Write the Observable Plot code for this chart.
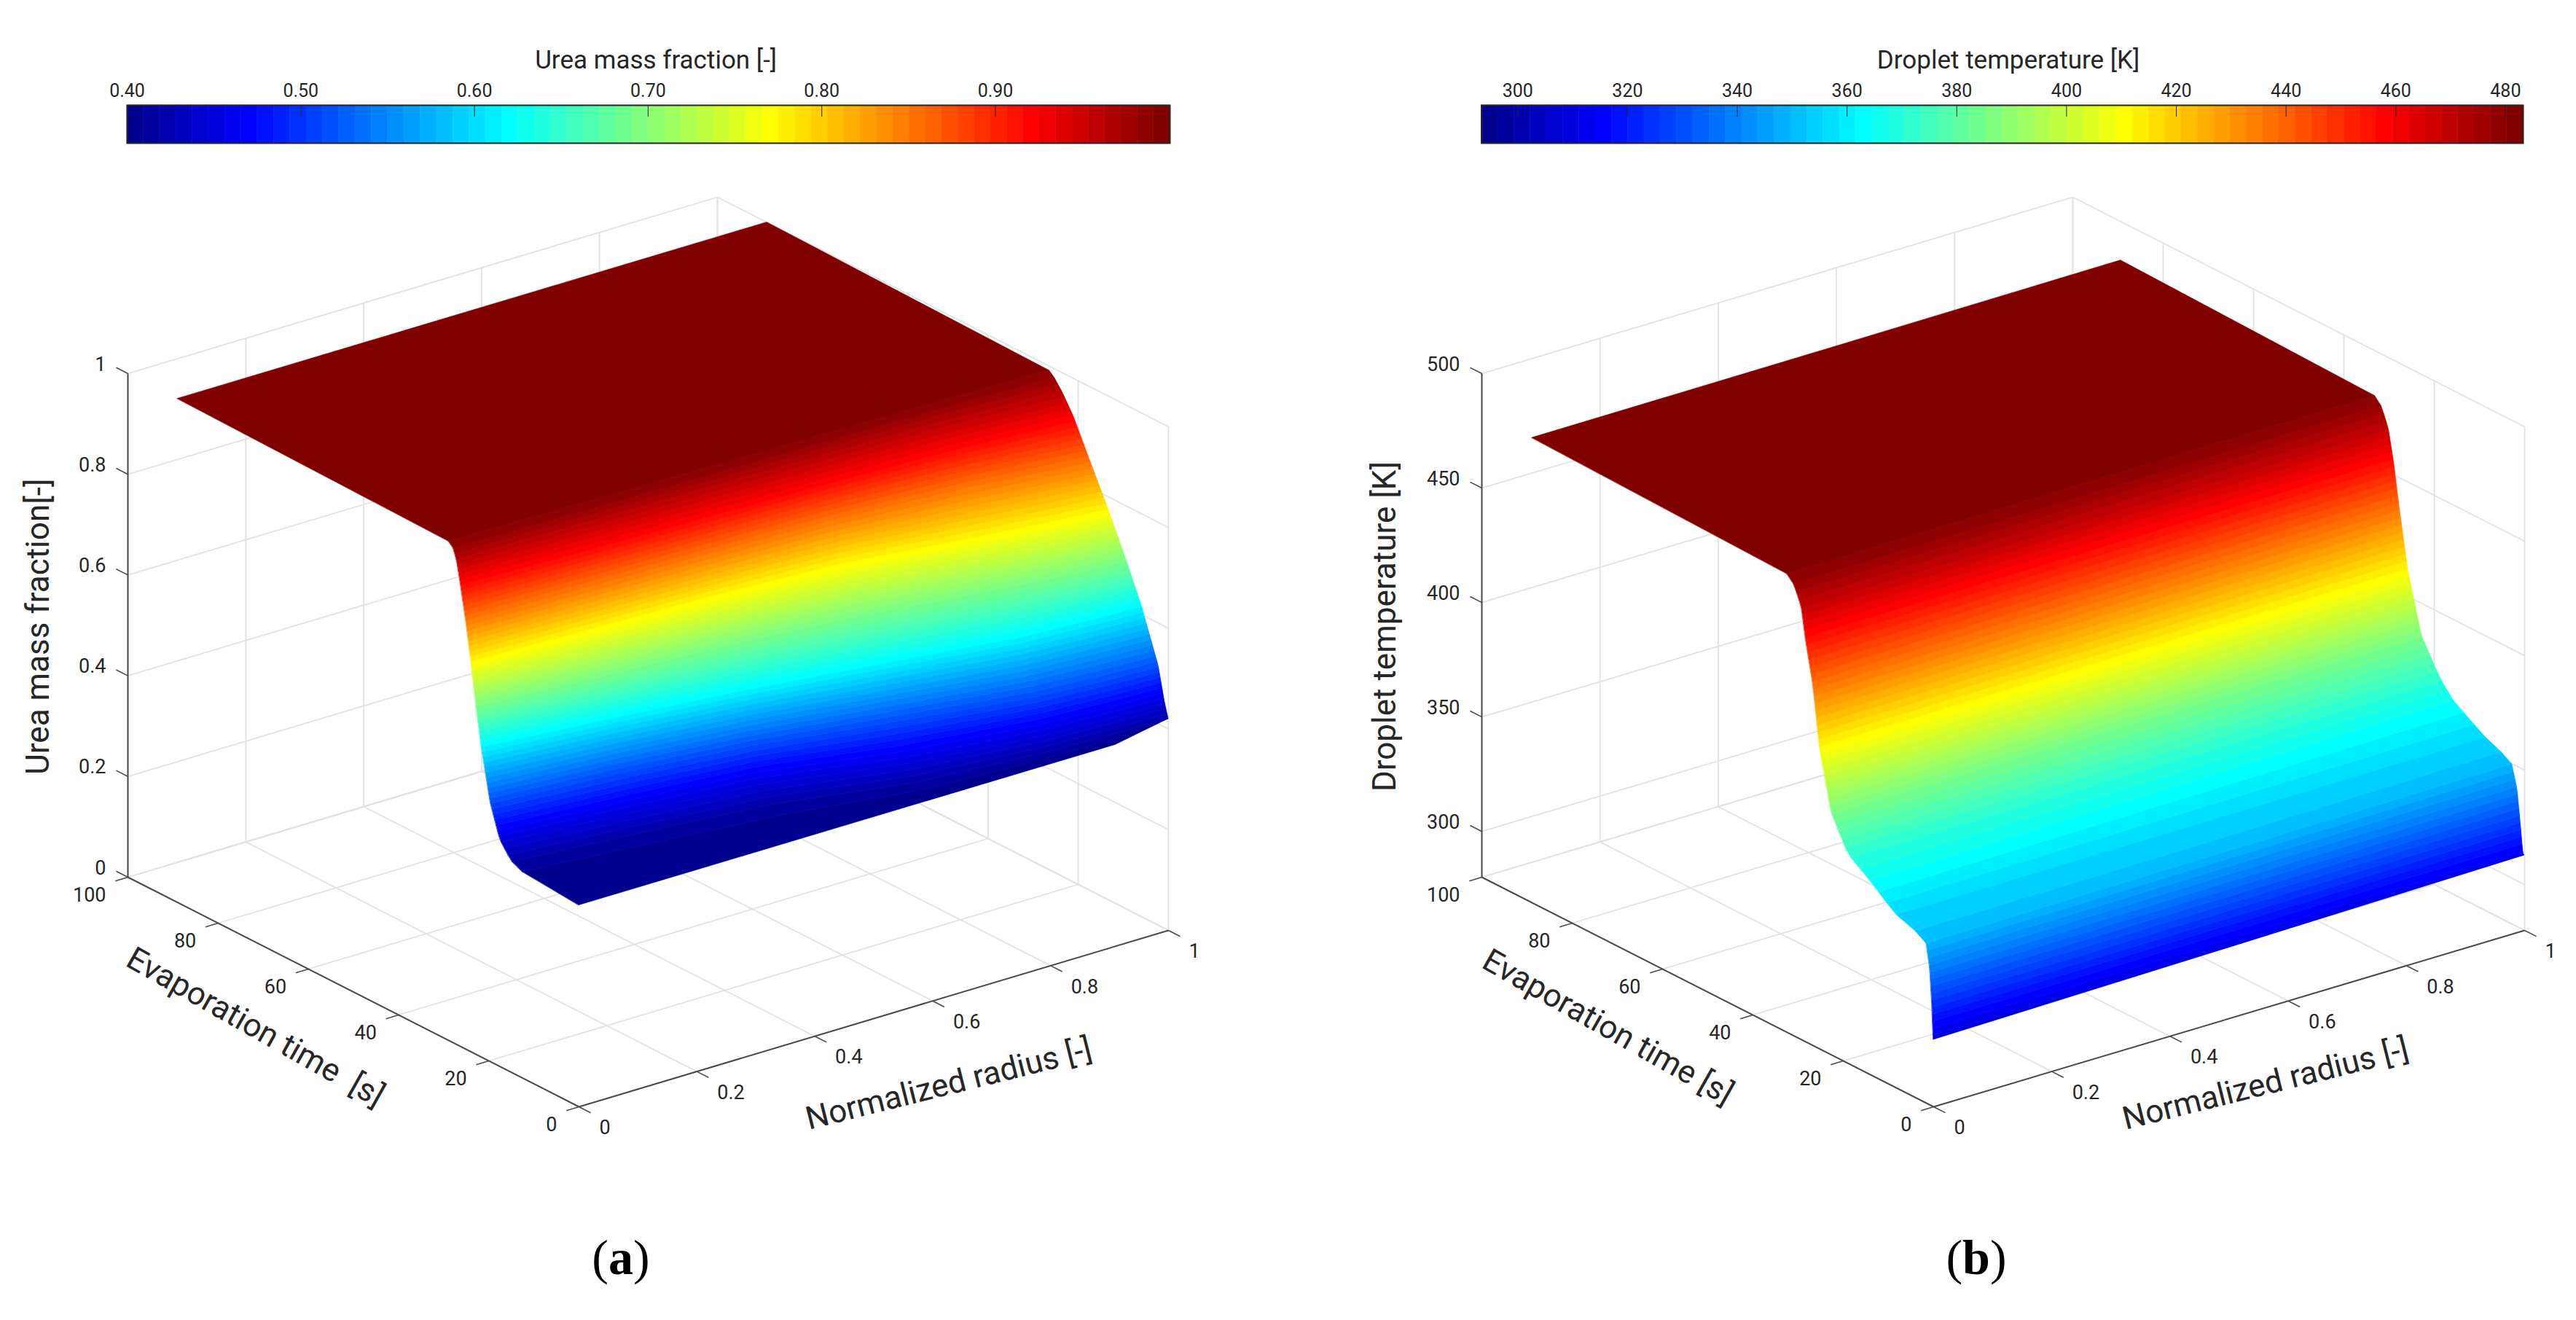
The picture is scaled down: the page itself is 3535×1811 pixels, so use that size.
<!DOCTYPE html>
<html>
<head>
<meta charset="utf-8">
<script src="https://cdn.jsdelivr.net/npm/d3@7"></script>
<script src="https://cdn.jsdelivr.net/npm/@observablehq/plot@0.6"></script>
<style>
  html, body { margin: 0; padding: 0; background: #fff; }
  #page { display: flex; width: 3535px; height: 1811px; overflow: hidden; font-family: Roboto, sans-serif; }
  .panel { flex: none; position: relative; }
  .panel svg { display: block; }
  .cap { position: relative; height: 131px; }
  .cap span { position: absolute; top: 6px; transform: translateX(-50%); font: 68px "Liberation Serif", serif; color: #000; }
</style>
</head>
<body>
<div id="page"></div>
<script>
// ---------- shared axis ticks ----------
const timeTicks = [0, 20, 40, 60, 80, 100];
const radiusTicks = [0, 0.2, 0.4, 0.6, 0.8, 1];

// ---------- (a) urea mass fraction ----------
const ureaZTicks = [0, 0.2, 0.4, 0.6, 0.8, 1];
const ureaBarTicks = [0.4, 0.5, 0.6, 0.7, 0.8, 0.9];
const ureaRadius = [0, 0.2, 0.4, 0.6, 0.8, 0.91, 1];
const ureaFloor = [0.40, 0.40, 0.40, 0.40, 0.40, 0.40, 0.42];   // value at t = 0 along the radius
const ureaLevels = [0.40, 0.405, 0.42, 0.45, 0.467, 0.515, 0.619, 0.69, 0.771, 0.85, 0.924, 0.96, 0.985, 0.995, 0.9995, 1.0];
// time [s] at which each level is reached, at each radius station
const ureaTimes = [
  [0, 0, 0, 0, 0, 0, 0],
  [11.5, 8.5, 5.5, 1.5, 0.4, 0.1, 0],
  [15, 12.5, 9.5, 3.5, 1, 0.5, 0],
  [17.4, 14.8, 12, 5.5, 2, 1.2, 0.85],
  [18, 15.6, 12.8, 6.5, 2.6, 1.7, 1.2],
  [19.6, 17.3, 14, 9, 4.2, 2.9, 2.2],
  [21.6, 18.8, 15.6, 11.7, 7.6, 6.6, 6],
  [22.7, 20.6, 18.8, 16, 12, 10, 9.2],
  [23.8, 22.8, 21.9, 20.2, 16.3, 14.4, 13.1],
  [25, 24.2, 23.4, 22.5, 20.5, 18.7, 17.2],
  [26.3, 25.3, 24.6, 23.9, 23, 22, 21],
  [27, 26.5, 26, 25.5, 25, 24, 23.4],
  [27.9, 27.4, 27, 26.6, 26.2, 25.8, 25.5],
  [29.5, 29, 28.5, 28, 27.5, 27.3, 27],
  [31.5, 31, 30.5, 30, 29.8, 29.6, 29.3],
  [89, 89, 89, 89, 89, 89, 89]
];

// ---------- (b) droplet temperature ----------
const tempZTicks = [300, 350, 400, 450, 500];
const tempBarTicks = [300, 320, 340, 360, 380, 400, 420, 440, 460, 480];
const tempRadius = [0, 0.5, 1];
const tempFloor = [309.3, 311, 312.8];
const tempLevels = [309.3, 315, 325, 340, 350, 352.6, 356, 364.5, 371.5, 386, 412, 437, 455, 469, 477, 481, 481.3, 481.6, 482.2, 483];
const tempTimes = [
  [0, 0, 0],
  [0.12, 0.25, 0.4],
  [0.32, 0.55, 0.85],
  [0.8, 1.2, 1.6],
  [1.6, 2.2, 2.8],
  [3.8, 4.2, 5],
  [8.6, 8.8, 9],
  [13.9, 14.8, 15.7],
  [18.9, 18.8, 18.7],
  [22.6, 22.7, 22.8],
  [25.2, 25.5, 25.85],
  [26.6, 27.2, 27.7],
  [28.2, 28.6, 28.9],
  [29.2, 29.7, 30.1],
  [30.8, 31.2, 31.6],
  [32.8, 33.3, 33.5],
  [70, 70, 70],
  [83, 83.2, 83.5],
  [86.5, 86.7, 87],
  [88.9, 89.1, 89.4]
];

// ---------- MATLAB jet(64) colormap ----------
const clamp01 = v => Math.max(0, Math.min(1, v));
const jet64 = d3.range(64).map(i => {
  const c = (i + 1) / 64;
  return d3.rgb(
    255 * clamp01(Math.min(4 * c - 1.5, -4 * c + 4.5)),
    255 * clamp01(Math.min(4 * c - 0.5, -4 * c + 3.5)),
    255 * clamp01(Math.min(4 * c + 0.5, -4 * c + 2.5))
  ).formatHex();
});

const ink = "#262626", gridInk = "#e2e2e2", axisInk = "#4a4a4a";

function panel(cfg) {
  const step = (cfg.barMax - cfg.barMin) / 64;
  const edges = d3.range(65).map(k => cfg.barMin + k * step);
  const color = {type: "threshold", domain: edges.slice(1, 64), range: jet64};
  const [zMin, zMax] = cfg.zDomain;
  const P = (r, t, z) => ({
    x: cfg.origin[0] + r * cfg.rVec[0] + t / 100 * cfg.tVec[0],
    y: cfg.origin[1] + r * cfg.rVec[1] + t / 100 * cfg.tVec[1] - (z - zMin) / (zMax - zMin) * cfg.zLen
  });

  // colour bar
  const barBands = d3.range(64).map(k => ({x1: edges[k], x2: edges[k + 1], v: (edges[k] + edges[k + 1]) / 2}));
  const barPlot = Plot.plot({
    width: cfg.w, height: 210,
    marginTop: 144, marginBottom: 14, marginLeft: cfg.barLeft, marginRight: cfg.barRight,
    style: {background: "transparent", fontFamily: "Roboto", color: ink, overflow: "visible"},
    x: {domain: [cfg.barMin, cfg.barMax], label: null},
    y: {domain: [0, 1], axis: null},
    color,
    marks: [
      Plot.rect(barBands, {x1: "x1", x2: "x2", y1: 0, y2: 1, fill: "v", stroke: "v", strokeWidth: 0.5}),
      Plot.ruleX(cfg.barTicks, {y1: 1, y2: 0.69, stroke: ink, strokeWidth: 1}),
      Plot.frame({stroke: ink, strokeWidth: 2}),
      Plot.axisX({anchor: "top", ticks: cfg.barTicks, tickSize: 0, tickPadding: 12, fontSize: 25, label: null, fill: ink}),
      Plot.text([cfg.barTitle], {x: () => cfg.barTitleAt, y: () => 2.19, text: d => d, fontSize: 35, fill: ink})
    ]
  });

  // surface bands: the read levels are shaded across the jet(64) steps, as MATLAB's shading interp does
  const timeAt = (z, j) => {
    const L = cfg.levels;
    let i = d3.bisectRight(L, z) - 1;
    i = Math.max(0, Math.min(L.length - 2, i));
    const f = (z - L[i]) / (L[i + 1] - L[i]);
    return cfg.times[i][j] + f * (cfg.times[i + 1][j] - cfg.times[i][j]);
  };
  const first = cfg.levels[0], last = cfg.levels[cfg.levels.length - 1];
  const bandRows = [];
  d3.range(64).forEach(k => {
    const lo = Math.max(edges[k], first), hi = Math.min(edges[k + 1], last);
    if (hi <= lo) return;
    cfg.radius.forEach((r, j) => {
      const a = P(r, timeAt(lo, j), Math.max(lo, cfg.floor[j]));
      const b = P(r, timeAt(hi, j), Math.max(hi, cfg.floor[j]));
      bandRows.push({k, v: (edges[k] + edges[k + 1]) / 2, x1: a.x, y1: a.y, x2: b.x, y2: b.y});
    });
  });

  // box and grid
  const seg = (a, b) => ({x1: a.x, y1: a.y, x2: b.x, y2: b.y});
  const grid = [
    ...radiusTicks.map(r => seg(P(r, 0, zMin), P(r, 100, zMin))),
    ...timeTicks.map(t => seg(P(0, t, zMin), P(1, t, zMin))),
    ...radiusTicks.map(r => seg(P(r, 100, zMin), P(r, 100, zMax))),
    ...timeTicks.map(t => seg(P(1, t, zMin), P(1, t, zMax))),
    ...[...cfg.zTicks, zMin].flatMap(z => [seg(P(0, 100, z), P(1, 100, z)), seg(P(1, 0, z), P(1, 100, z))])
  ];
  const axes = [
    seg(P(0, 0, zMin), P(1, 0, zMin)),
    seg(P(0, 0, zMin), P(0, 100, zMin)),
    seg(P(0, 100, zMin), P(0, 100, zMax))
  ];
  const tlen = 18;
  const tn = Math.hypot(...cfg.tVec), rn = Math.hypot(...cfg.rVec);
  const shift = (p, v, n) => ({x: p.x + v[0] / n * tlen, y: p.y + v[1] / n * tlen});
  const ticks = [
    ...cfg.zTicks.map(z => seg(P(0, 100, z), shift(P(0, 100, z), cfg.tVec, tn))),
    ...timeTicks.map(t => seg(P(0, t, zMin), shift(P(0, t, zMin), cfg.rVec.map(v => -v), rn))),
    ...radiusTicks.map(r => seg(P(r, 0, zMin), shift(P(r, 0, zMin), cfg.tVec.map(v => -v), tn)))
  ];
  const fmt = d3.format("~g");
  const zPos = P(0, 100, (zMin + zMax) / 2), tPos = P(0, 50, zMin), rPos = P(0.5, 0, zMin);

  const surfPlot = Plot.plot({
    width: cfg.w, height: 1470, margin: 0,
    style: {background: "transparent", fontFamily: "Roboto", color: ink, overflow: "visible"},
    x: {domain: [cfg.x0, cfg.x0 + cfg.w], range: [0, cfg.w], axis: null},
    y: {domain: [210, 1680], range: [0, 1470], axis: null},
    color,
    marks: [
      Plot.link(grid, {x1: "x1", y1: "y1", x2: "x2", y2: "y2", stroke: gridInk, strokeWidth: 1.8}),
      Plot.area(bandRows, {x1: "x1", y1: "y1", x2: "x2", y2: "y2", z: "k", fill: "v", stroke: "v", strokeWidth: 0.7}),
      Plot.link(axes, {x1: "x1", y1: "y1", x2: "x2", y2: "y2", stroke: axisInk, strokeWidth: 2}),
      Plot.link(ticks, {x1: "x1", y1: "y1", x2: "x2", y2: "y2", stroke: axisInk, strokeWidth: 1.6}),
      Plot.text(cfg.zTicks, {x: z => P(0, 100, z).x, y: z => P(0, 100, z).y, text: fmt, dx: -30, dy: -12.5, textAnchor: "end", fontSize: 27, fill: ink}),
      Plot.text(timeTicks, {x: t => P(0, t, zMin).x, y: t => P(0, t, zMin).y, text: fmt, dx: -30, dy: 25, textAnchor: "end", fontSize: 27, fill: ink}),
      Plot.text(radiusTicks, {x: r => P(r, 0, zMin).x, y: r => P(r, 0, zMin).y, text: fmt, dx: 28, dy: 29, textAnchor: "start", fontSize: 27, fill: ink}),
      Plot.text([cfg.zLabel], {x: () => zPos.x, y: () => zPos.y, text: d => d, dx: cfg.zLabelDx, dy: 1.5, rotate: -90, fontSize: 44, fill: ink}),
      Plot.text([cfg.tLabel], {x: () => tPos.x, y: () => tPos.y, text: d => d, dx: cfg.tLabelD[0], dy: cfg.tLabelD[1], rotate: 29.5, fontSize: 44, fill: ink}),
      Plot.text([cfg.rLabel], {x: () => rPos.x, y: () => rPos.y, text: d => d, dx: cfg.rLabelD[0], dy: cfg.rLabelD[1], rotate: -14, fontSize: 44, fill: ink})
    ]
  });

  const div = document.createElement("div");
  div.className = "panel";
  div.style.width = cfg.w + "px";
  div.append(barPlot, surfPlot);
  const cap = document.createElement("div");
  cap.className = "cap";
  cap.innerHTML = `<span style="left:${cfg.capAt}px">(<b>${cfg.tag}</b>)</span>`;
  div.append(cap);
  document.getElementById("page").append(div);
}

panel({
  x0: 0, w: 1767, tag: "a", capAt: 852,
  origin: [794, 1518], rVec: [809, -242], tVec: [-619, -315], zLen: 691,
  zDomain: [0, 1], zTicks: ureaZTicks,
  radius: ureaRadius, floor: ureaFloor, levels: ureaLevels, times: ureaTimes,
  barMin: 0.4, barMax: 1.0005, barTicks: ureaBarTicks, barLeft: 174, barRight: 162,
  barTitle: "Urea mass fraction [-]", barTitleAt: 0.7045,
  zLabel: "Urea mass fraction[-]", zLabelDx: -123,
  tLabel: "Evaporation time\u00A0\u00A0[s]", tLabelD: [-134.5, 48.5],
  rLabel: "Normalized radius [-]", rLabelD: [103, 90]
});
panel({
  x0: 1767, w: 1768, tag: "b", capAt: 945,
  origin: [2653, 1518], rVec: [811, -242], tVec: [-620, -315], zLen: 691,
  zDomain: [280, 500], zTicks: tempZTicks,
  radius: tempRadius, floor: tempFloor, levels: tempLevels, times: tempTimes,
  barMin: 293.4, barMax: 483.2, barTicks: tempBarTicks, barLeft: 265.6, barRight: 73,
  barTitle: "Droplet temperature [K]", barTitleAt: 389.4,
  zLabel: "Droplet temperature [K]", zLabelDx: -133,
  tLabel: "Evaporation time [s]", tLabelD: [-137, 48.5],
  rLabel: "Normalized radius [-]", rLabelD: [50, 90]
});
</script>
</body>
</html>
